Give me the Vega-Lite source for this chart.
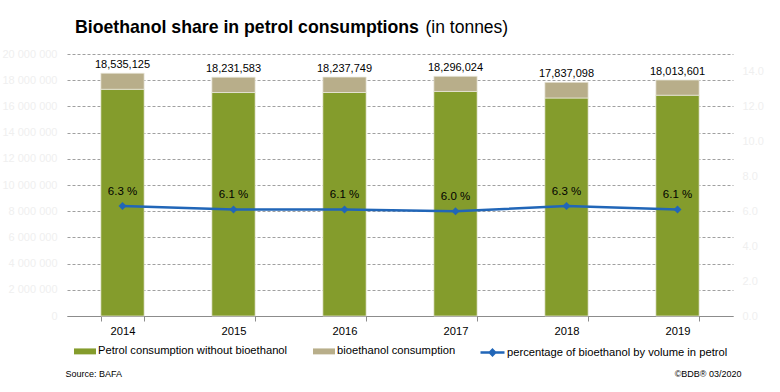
{
  "$schema": "https://vega.github.io/schema/vega-lite/v6.json",
  "width": 666,
  "height": 262,
  "autosize": {"type": "none"},
  "padding": {"left": 67, "top": 54, "right": 47, "bottom": 76},
  "background": "white",
  "title": {
    "text": "Bioethanol share in petrol consumptions",
    "anchor": "start",
    "frame": "group",
    "font": "Liberation Sans",
    "fontSize": 17.7,
    "fontWeight": "bold",
    "color": "#000000",
    "baseline": "alphabetic",
    "dx": 8,
    "offset": -33
  },
  "config": {
    "view": {"stroke": null},
    "font": "Liberation Sans",
    "axis": {"labelFont": "Liberation Sans", "titleFont": "Liberation Sans"},
    "legend": {"labelFont": "Liberation Sans"}
  },
  "datasets": {
    "bars": [
      {"year": "2014", "type": "Petrol consumption without bioethanol", "value": 17306125, "ord": 1},
      {"year": "2014", "type": "bioethanol consumption", "value": 1229000, "ord": 2},
      {"year": "2015", "type": "Petrol consumption without bioethanol", "value": 17058583, "ord": 1},
      {"year": "2015", "type": "bioethanol consumption", "value": 1173000, "ord": 2},
      {"year": "2016", "type": "Petrol consumption without bioethanol", "value": 17061749, "ord": 1},
      {"year": "2016", "type": "bioethanol consumption", "value": 1176000, "ord": 2},
      {"year": "2017", "type": "Petrol consumption without bioethanol", "value": 17141024, "ord": 1},
      {"year": "2017", "type": "bioethanol consumption", "value": 1155000, "ord": 2},
      {"year": "2018", "type": "Petrol consumption without bioethanol", "value": 16641098, "ord": 1},
      {"year": "2018", "type": "bioethanol consumption", "value": 1196000, "ord": 2},
      {"year": "2019", "type": "Petrol consumption without bioethanol", "value": 16854601, "ord": 1},
      {"year": "2019", "type": "bioethanol consumption", "value": 1159000, "ord": 2}
    ],
    "totals": [
      {"year": "2014", "total": 18535125, "pct": 6.3, "label": "6.3 %", "series": "percentage of bioethanol by volume in petrol"},
      {"year": "2015", "total": 18231583, "pct": 6.1, "label": "6.1 %", "series": "percentage of bioethanol by volume in petrol"},
      {"year": "2016", "total": 18237749, "pct": 6.1, "label": "6.1 %", "series": "percentage of bioethanol by volume in petrol"},
      {"year": "2017", "total": 18296024, "pct": 6.0, "label": "6.0 %", "series": "percentage of bioethanol by volume in petrol"},
      {"year": "2018", "total": 17837098, "pct": 6.3, "label": "6.3 %", "series": "percentage of bioethanol by volume in petrol"},
      {"year": "2019", "total": 18013601, "pct": 6.1, "label": "6.1 %", "series": "percentage of bioethanol by volume in petrol"}
    ]
  },
  "encoding": {
    "x": {
      "field": "year",
      "type": "nominal",
      "sort": ["2014", "2015", "2016", "2017", "2018", "2019"],
      "scale": {"paddingInner": 0.61, "paddingOuter": 0.305},
      "axis": {
        "labelAngle": 0,
        "labelFontSize": 11.2,
        "labelColor": "#000000",
        "labelPadding": 4,
        "domainColor": "#8c8c8c",
        "tickColor": "#8c8c8c",
        "tickBand": "extent",
        "tickSize": 5,
        "grid": false,
        "title": "Source: BAFA",
        "titleFontSize": 9,
        "titleFontWeight": "normal",
        "titleColor": "#000000",
        "titleAlign": "left",
        "titleBaseline": "middle",
        "titleAnchor": "start",
        "titleX": -2,
        "titleY": 57
      }
    }
  },
  "layer": [
    {
      "layer": [
        {
          "data": {"name": "bars"},
          "mark": {"type": "bar", "stroke": "#ecebe0", "strokeWidth": 0.7},
          "encoding": {
            "y": {
              "field": "value",
              "type": "quantitative",
              "stack": "zero",
              "scale": {"domain": [0, 20000000], "nice": false},
              "axis": {
                "orient": "left",
                "values": [0, 2000000, 4000000, 6000000, 8000000, 10000000, 12000000, 14000000, 16000000, 18000000, 20000000],
                "tickCount": 30,
                "labelExpr": "replace(format(datum.value, ','), regexp(',', 'g'), ' ')",
                "labelOverlap": false,
                "labelFontSize": 11,
                "labelColor": "#efefef",
                "labelPadding": 10,
                "ticks": false,
                "domain": false,
                "grid": true,
                "gridColor": "#a0a0a0",
                "gridDash": [3, 2],
                "gridWidth": 1,
                "title": "(in tonnes)",
                "titleAngle": 0,
                "titleFontSize": 17.5,
                "titleFontWeight": "normal",
                "titleColor": "#000000",
                "titleAlign": "left",
                "titleBaseline": "alphabetic",
                "titleAnchor": "start",
                "titleX": 358,
                "titleY": -22
              }
            },
            "color": {
              "field": "type",
              "type": "nominal",
              "scale": {
                "domain": ["Petrol consumption without bioethanol", "bioethanol consumption"],
                "range": ["#849c2c", "#b8ae8a"]
              },
              "legend": {
                "orient": "none",
                "legendX": 7,
                "legendY": 286,
                "direction": "horizontal",
                "title": null,
                "labelFontSize": 11.2,
                "labelColor": "#000000",
                "labelOffset": 2,
                "labelLimit": 400,
                "columnPadding": 25,
                "symbolType": "M-1,-0.27H1V0.27H-1Z",
                "symbolSize": 484,
                "symbolStrokeWidth": 0,
                "symbolOpacity": 1,
                "padding": 0
              }
            },
            "order": {"field": "ord", "type": "quantitative"}
          }
        },
        {
          "data": {"name": "totals"},
          "mark": {"type": "text", "fontSize": 11, "color": "#000000", "baseline": "middle", "dy": -8},
          "encoding": {
            "y": {"field": "total", "type": "quantitative"},
            "text": {"field": "total", "type": "quantitative", "format": ","}
          }
        }
      ]
    },
    {
      "data": {"name": "totals"},
      "layer": [
        {
          "mark": {"type": "line", "strokeWidth": 2.5},
          "encoding": {
            "y": {
              "field": "pct",
              "type": "quantitative",
              "scale": {"domain": [0, 15], "nice": false},
              "axis": {
                "orient": "right",
                "values": [0, 2, 4, 6, 8, 10, 12, 14],
                "tickCount": 30,
                "format": ".1f",
                "labelOverlap": false,
                "labelFontSize": 11,
                "labelColor": "#efefef",
                "labelPadding": 9,
                "ticks": false,
                "domain": false,
                "grid": false,
                "title": "©BDB® 03/2020",
                "titleAngle": 0,
                "titleFontSize": 9,
                "titleFontWeight": "normal",
                "titleColor": "#000000",
                "titleAlign": "right",
                "titleBaseline": "middle",
                "titleX": 8,
                "titleY": 319
              }
            },
            "stroke": {
              "field": "series",
              "type": "nominal",
              "scale": {"range": ["#2166b8"]},
              "legend": {
                "orient": "none",
                "legendX": 412,
                "legendY": 285,
                "direction": "horizontal",
                "title": null,
                "labelFontSize": 11.2,
                "labelColor": "#000000",
                "labelOffset": 1,
                "labelLimit": 400,
                "symbolType": "M-1,0H1M0,-0.22L0.22,0L0,0.22L-0.22,0Z",
                "symbolSize": 576,
                "symbolStrokeWidth": 2.5,
                "symbolFillColor": "#2166b8",
                "symbolOpacity": 1,
                "padding": 0
              }
            }
          }
        },
        {
          "mark": {"type": "point", "shape": "diamond", "filled": true, "color": "#2166b8", "size": 64, "opacity": 1},
          "encoding": {
            "y": {"field": "pct", "type": "quantitative"}
          }
        },
        {
          "mark": {"type": "text", "fontSize": 11.5, "color": "#000000", "baseline": "middle", "dy": -14},
          "encoding": {
            "y": {"field": "pct", "type": "quantitative"},
            "text": {"field": "label", "type": "nominal"}
          }
        }
      ]
    }
  ],
  "resolve": {"scale": {"y": "independent"}}
}
